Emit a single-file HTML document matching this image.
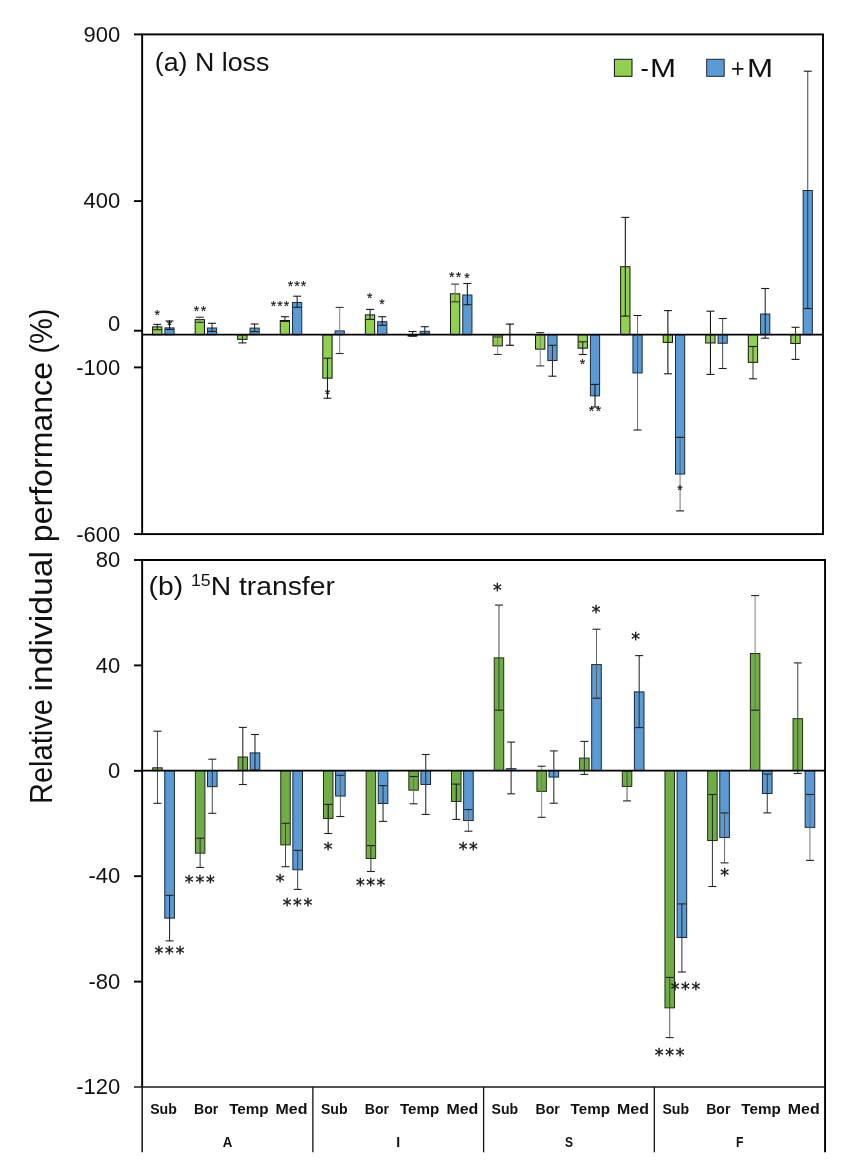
<!DOCTYPE html>
<html lang="en"><head><meta charset="utf-8"><title>Relative individual performance</title>
<style>html,body{margin:0;padding:0;background:#fff}body{width:850px;height:1168px;overflow:hidden}svg{display:block;font-family:"Liberation Sans", sans-serif;will-change:transform}</style></head><body>
<svg width="850" height="1168" viewBox="0 0 850 1168">
<rect width="850" height="1168" fill="#fff"/>
<rect x="152.60" y="326.90" width="9.30" height="7.80" fill="#92d050" stroke="#111" stroke-width="1.0"/>
<rect x="164.90" y="327.90" width="9.20" height="6.80" fill="#5b9bd5" stroke="#1c2b3a" stroke-width="1.0"/>
<rect x="195.15" y="319.60" width="9.30" height="15.10" fill="#92d050" stroke="#111" stroke-width="1.0"/>
<rect x="207.45" y="328.00" width="9.20" height="6.70" fill="#5b9bd5" stroke="#1c2b3a" stroke-width="1.0"/>
<rect x="237.70" y="334.70" width="9.30" height="4.65" fill="#92d050" stroke="#111" stroke-width="1.0"/>
<rect x="250.00" y="328.10" width="9.20" height="6.60" fill="#5b9bd5" stroke="#1c2b3a" stroke-width="1.0"/>
<rect x="280.25" y="320.50" width="9.30" height="14.20" fill="#92d050" stroke="#111" stroke-width="1.0"/>
<rect x="292.55" y="302.50" width="9.20" height="32.20" fill="#5b9bd5" stroke="#1c2b3a" stroke-width="1.0"/>
<rect x="322.80" y="334.70" width="9.30" height="43.45" fill="#92d050" stroke="#111" stroke-width="1.0"/>
<rect x="335.10" y="330.90" width="9.20" height="3.80" fill="#5b9bd5" stroke="#1c2b3a" stroke-width="1.0"/>
<rect x="365.35" y="314.90" width="9.30" height="19.80" fill="#92d050" stroke="#111" stroke-width="1.0"/>
<rect x="377.65" y="321.70" width="9.20" height="13.00" fill="#5b9bd5" stroke="#1c2b3a" stroke-width="1.0"/>
<rect x="407.90" y="334.70" width="9.30" height="1.15" fill="#92d050" stroke="#111" stroke-width="1.0"/>
<rect x="420.20" y="331.30" width="9.20" height="3.40" fill="#5b9bd5" stroke="#1c2b3a" stroke-width="1.0"/>
<rect x="450.45" y="293.80" width="9.30" height="40.90" fill="#92d050" stroke="#111" stroke-width="1.0"/>
<rect x="462.75" y="295.00" width="9.20" height="39.70" fill="#5b9bd5" stroke="#1c2b3a" stroke-width="1.0"/>
<rect x="493.00" y="334.70" width="9.30" height="11.15" fill="#92d050" stroke="#111" stroke-width="1.0"/>
<rect x="535.55" y="334.70" width="9.30" height="14.45" fill="#92d050" stroke="#111" stroke-width="1.0"/>
<rect x="547.85" y="334.70" width="9.20" height="25.85" fill="#5b9bd5" stroke="#1c2b3a" stroke-width="1.0"/>
<rect x="578.10" y="334.70" width="9.30" height="13.45" fill="#92d050" stroke="#111" stroke-width="1.0"/>
<rect x="590.40" y="334.70" width="9.20" height="61.15" fill="#5b9bd5" stroke="#1c2b3a" stroke-width="1.0"/>
<rect x="620.65" y="266.70" width="9.30" height="68.00" fill="#92d050" stroke="#111" stroke-width="1.0"/>
<rect x="632.95" y="334.70" width="9.20" height="38.25" fill="#5b9bd5" stroke="#1c2b3a" stroke-width="1.0"/>
<rect x="663.20" y="334.70" width="9.30" height="7.65" fill="#92d050" stroke="#111" stroke-width="1.0"/>
<rect x="675.50" y="334.70" width="9.20" height="139.35" fill="#5b9bd5" stroke="#1c2b3a" stroke-width="1.0"/>
<rect x="705.75" y="334.70" width="9.30" height="8.25" fill="#92d050" stroke="#111" stroke-width="1.0"/>
<rect x="718.05" y="334.70" width="9.20" height="8.55" fill="#5b9bd5" stroke="#1c2b3a" stroke-width="1.0"/>
<rect x="748.30" y="334.70" width="9.30" height="27.65" fill="#92d050" stroke="#111" stroke-width="1.0"/>
<rect x="760.60" y="314.00" width="9.20" height="20.70" fill="#5b9bd5" stroke="#1c2b3a" stroke-width="1.0"/>
<rect x="790.85" y="334.70" width="9.30" height="8.75" fill="#92d050" stroke="#111" stroke-width="1.0"/>
<rect x="803.15" y="190.50" width="9.20" height="144.20" fill="#5b9bd5" stroke="#1c2b3a" stroke-width="1.0"/>
<line x1="157.30" y1="324.40" x2="157.30" y2="329.70" stroke="#1a1a1a" stroke-width="1.0" />
<line x1="153.30" y1="324.40" x2="161.30" y2="324.40" stroke="#1a1a1a" stroke-width="1.1" />
<line x1="153.30" y1="329.70" x2="161.30" y2="329.70" stroke="#1a1a1a" stroke-width="1.1" />
<line x1="169.50" y1="321.00" x2="169.50" y2="329.50" stroke="#1a1a1a" stroke-width="1.0" />
<line x1="165.50" y1="321.00" x2="173.50" y2="321.00" stroke="#1a1a1a" stroke-width="1.1" />
<line x1="165.50" y1="329.50" x2="173.50" y2="329.50" stroke="#1a1a1a" stroke-width="1.1" />
<line x1="199.85" y1="317.20" x2="199.85" y2="322.40" stroke="#777" stroke-width="0.9" />
<line x1="195.85" y1="317.20" x2="203.85" y2="317.20" stroke="#333" stroke-width="1.1" />
<line x1="195.85" y1="322.40" x2="203.85" y2="322.40" stroke="#333" stroke-width="1.1" />
<line x1="212.05" y1="323.30" x2="212.05" y2="331.40" stroke="#1a1a1a" stroke-width="1.0" />
<line x1="208.05" y1="323.30" x2="216.05" y2="323.30" stroke="#1a1a1a" stroke-width="1.1" />
<line x1="208.05" y1="331.40" x2="216.05" y2="331.40" stroke="#1a1a1a" stroke-width="1.1" />
<line x1="242.40" y1="334.70" x2="242.40" y2="342.90" stroke="#1a1a1a" stroke-width="1.0" />
<line x1="238.40" y1="334.70" x2="246.40" y2="334.70" stroke="#1a1a1a" stroke-width="1.1" />
<line x1="238.40" y1="342.90" x2="246.40" y2="342.90" stroke="#1a1a1a" stroke-width="1.1" />
<line x1="254.60" y1="324.00" x2="254.60" y2="331.60" stroke="#1a1a1a" stroke-width="1.0" />
<line x1="250.60" y1="324.00" x2="258.60" y2="324.00" stroke="#1a1a1a" stroke-width="1.1" />
<line x1="250.60" y1="331.60" x2="258.60" y2="331.60" stroke="#1a1a1a" stroke-width="1.1" />
<line x1="284.95" y1="316.70" x2="284.95" y2="321.40" stroke="#1a1a1a" stroke-width="1.0" />
<line x1="280.95" y1="316.70" x2="288.95" y2="316.70" stroke="#1a1a1a" stroke-width="1.1" />
<line x1="280.95" y1="321.40" x2="288.95" y2="321.40" stroke="#1a1a1a" stroke-width="1.1" />
<line x1="297.15" y1="296.20" x2="297.15" y2="307.30" stroke="#1a1a1a" stroke-width="1.0" />
<line x1="293.15" y1="296.20" x2="301.15" y2="296.20" stroke="#1a1a1a" stroke-width="1.1" />
<line x1="293.15" y1="307.30" x2="301.15" y2="307.30" stroke="#1a1a1a" stroke-width="1.1" />
<line x1="327.50" y1="358.20" x2="327.50" y2="398.20" stroke="#1a1a1a" stroke-width="1.1" />
<line x1="323.50" y1="358.20" x2="331.50" y2="358.20" stroke="#1a1a1a" stroke-width="1.1" />
<line x1="323.50" y1="398.20" x2="331.50" y2="398.20" stroke="#1a1a1a" stroke-width="1.1" />
<line x1="339.70" y1="307.40" x2="339.70" y2="353.50" stroke="#777" stroke-width="0.9" />
<line x1="335.70" y1="307.40" x2="343.70" y2="307.40" stroke="#333" stroke-width="1.1" />
<line x1="335.70" y1="353.50" x2="343.70" y2="353.50" stroke="#333" stroke-width="1.1" />
<line x1="370.05" y1="309.40" x2="370.05" y2="319.40" stroke="#1a1a1a" stroke-width="1.1" />
<line x1="366.05" y1="309.40" x2="374.05" y2="309.40" stroke="#1a1a1a" stroke-width="1.1" />
<line x1="366.05" y1="319.40" x2="374.05" y2="319.40" stroke="#1a1a1a" stroke-width="1.1" />
<line x1="382.25" y1="316.70" x2="382.25" y2="325.30" stroke="#1a1a1a" stroke-width="1.0" />
<line x1="378.25" y1="316.70" x2="386.25" y2="316.70" stroke="#1a1a1a" stroke-width="1.1" />
<line x1="378.25" y1="325.30" x2="386.25" y2="325.30" stroke="#1a1a1a" stroke-width="1.1" />
<line x1="412.60" y1="331.50" x2="412.60" y2="336.20" stroke="#1a1a1a" stroke-width="1.0" />
<line x1="408.60" y1="331.50" x2="416.60" y2="331.50" stroke="#1a1a1a" stroke-width="1.1" />
<line x1="408.60" y1="336.20" x2="416.60" y2="336.20" stroke="#1a1a1a" stroke-width="1.1" />
<line x1="424.80" y1="326.70" x2="424.80" y2="334.00" stroke="#1a1a1a" stroke-width="1.0" />
<line x1="420.80" y1="326.70" x2="428.80" y2="326.70" stroke="#1a1a1a" stroke-width="1.1" />
<line x1="420.80" y1="334.00" x2="428.80" y2="334.00" stroke="#1a1a1a" stroke-width="1.1" />
<line x1="455.15" y1="284.10" x2="455.15" y2="301.80" stroke="#777" stroke-width="1.0" />
<line x1="451.15" y1="284.10" x2="459.15" y2="284.10" stroke="#333" stroke-width="1.1" />
<line x1="451.15" y1="301.80" x2="459.15" y2="301.80" stroke="#333" stroke-width="1.1" />
<line x1="467.35" y1="283.50" x2="467.35" y2="304.70" stroke="#1a1a1a" stroke-width="1.1" />
<line x1="463.35" y1="283.50" x2="471.35" y2="283.50" stroke="#1a1a1a" stroke-width="1.1" />
<line x1="463.35" y1="304.70" x2="471.35" y2="304.70" stroke="#1a1a1a" stroke-width="1.1" />
<line x1="497.70" y1="337.00" x2="497.70" y2="354.50" stroke="#777" stroke-width="0.9" />
<line x1="493.70" y1="337.00" x2="501.70" y2="337.00" stroke="#333" stroke-width="1.1" />
<line x1="493.70" y1="354.50" x2="501.70" y2="354.50" stroke="#333" stroke-width="1.1" />
<line x1="509.90" y1="324.10" x2="509.90" y2="345.30" stroke="#1a1a1a" stroke-width="1.2" />
<line x1="505.90" y1="324.10" x2="513.90" y2="324.10" stroke="#1a1a1a" stroke-width="1.2" />
<line x1="505.90" y1="345.30" x2="513.90" y2="345.30" stroke="#1a1a1a" stroke-width="1.2" />
<line x1="540.25" y1="332.60" x2="540.25" y2="365.90" stroke="#777" stroke-width="0.9" />
<line x1="536.25" y1="332.60" x2="544.25" y2="332.60" stroke="#333" stroke-width="1.1" />
<line x1="536.25" y1="365.90" x2="544.25" y2="365.90" stroke="#333" stroke-width="1.1" />
<line x1="552.45" y1="345.30" x2="552.45" y2="376.20" stroke="#333" stroke-width="1.1" />
<line x1="548.45" y1="345.30" x2="556.45" y2="345.30" stroke="#1a1a1a" stroke-width="1.1" />
<line x1="548.45" y1="376.20" x2="556.45" y2="376.20" stroke="#1a1a1a" stroke-width="1.1" />
<line x1="582.80" y1="341.80" x2="582.80" y2="354.50" stroke="#1a1a1a" stroke-width="1.0" />
<line x1="578.80" y1="341.80" x2="586.80" y2="341.80" stroke="#1a1a1a" stroke-width="1.1" />
<line x1="578.80" y1="354.50" x2="586.80" y2="354.50" stroke="#1a1a1a" stroke-width="1.1" />
<line x1="595.00" y1="384.40" x2="595.00" y2="407.00" stroke="#1a1a1a" stroke-width="1.1" />
<line x1="591.00" y1="384.40" x2="599.00" y2="384.40" stroke="#1a1a1a" stroke-width="1.1" />
<line x1="591.00" y1="407.00" x2="599.00" y2="407.00" stroke="#1a1a1a" stroke-width="1.1" />
<line x1="625.35" y1="217.40" x2="625.35" y2="316.10" stroke="#1a1a1a" stroke-width="1.1" />
<line x1="621.35" y1="217.40" x2="629.35" y2="217.40" stroke="#1a1a1a" stroke-width="1.1" />
<line x1="621.35" y1="316.10" x2="629.35" y2="316.10" stroke="#1a1a1a" stroke-width="1.1" />
<line x1="637.55" y1="315.50" x2="637.55" y2="430.00" stroke="#444" stroke-width="0.8" />
<line x1="633.55" y1="315.50" x2="641.55" y2="315.50" stroke="#1a1a1a" stroke-width="1.1" />
<line x1="633.55" y1="430.00" x2="641.55" y2="430.00" stroke="#1a1a1a" stroke-width="1.1" />
<line x1="667.90" y1="310.60" x2="667.90" y2="373.80" stroke="#1a1a1a" stroke-width="1.1" />
<line x1="663.90" y1="310.60" x2="671.90" y2="310.60" stroke="#1a1a1a" stroke-width="1.1" />
<line x1="663.90" y1="373.80" x2="671.90" y2="373.80" stroke="#1a1a1a" stroke-width="1.1" />
<line x1="680.10" y1="437.30" x2="680.10" y2="510.90" stroke="#555" stroke-width="0.8" />
<line x1="676.10" y1="437.30" x2="684.10" y2="437.30" stroke="#1a1a1a" stroke-width="1.1" />
<line x1="676.10" y1="510.90" x2="684.10" y2="510.90" stroke="#1a1a1a" stroke-width="1.1" />
<line x1="710.45" y1="311.20" x2="710.45" y2="374.40" stroke="#1a1a1a" stroke-width="1.1" />
<line x1="706.45" y1="311.20" x2="714.45" y2="311.20" stroke="#1a1a1a" stroke-width="1.1" />
<line x1="706.45" y1="374.40" x2="714.45" y2="374.40" stroke="#1a1a1a" stroke-width="1.1" />
<line x1="722.65" y1="318.50" x2="722.65" y2="368.50" stroke="#1a1a1a" stroke-width="0.8" />
<line x1="718.65" y1="318.50" x2="726.65" y2="318.50" stroke="#1a1a1a" stroke-width="1.1" />
<line x1="718.65" y1="368.50" x2="726.65" y2="368.50" stroke="#1a1a1a" stroke-width="1.1" />
<line x1="753.00" y1="346.50" x2="753.00" y2="378.80" stroke="#333" stroke-width="1.0" />
<line x1="749.00" y1="346.50" x2="757.00" y2="346.50" stroke="#1a1a1a" stroke-width="1.1" />
<line x1="749.00" y1="378.80" x2="757.00" y2="378.80" stroke="#1a1a1a" stroke-width="1.1" />
<line x1="765.20" y1="288.50" x2="765.20" y2="338.20" stroke="#1a1a1a" stroke-width="1.0" />
<line x1="761.20" y1="288.50" x2="769.20" y2="288.50" stroke="#1a1a1a" stroke-width="1.1" />
<line x1="761.20" y1="338.20" x2="769.20" y2="338.20" stroke="#1a1a1a" stroke-width="1.1" />
<line x1="795.55" y1="327.30" x2="795.55" y2="359.40" stroke="#1a1a1a" stroke-width="0.9" />
<line x1="791.55" y1="327.30" x2="799.55" y2="327.30" stroke="#1a1a1a" stroke-width="1.1" />
<line x1="791.55" y1="359.40" x2="799.55" y2="359.40" stroke="#1a1a1a" stroke-width="1.1" />
<line x1="807.75" y1="71.20" x2="807.75" y2="308.50" stroke="#1a1a1a" stroke-width="0.8" />
<line x1="803.75" y1="71.20" x2="811.75" y2="71.20" stroke="#1a1a1a" stroke-width="1.1" />
<line x1="803.75" y1="308.50" x2="811.75" y2="308.50" stroke="#1a1a1a" stroke-width="1.1" />
<line x1="142.15" y1="334.70" x2="823.00" y2="334.70" stroke="#000" stroke-width="1.7" />
<rect x="142.15" y="34.4" width="680.85" height="499.70" fill="none" stroke="#000" stroke-width="1.9"/>
<line x1="134.00" y1="34.40" x2="142.15" y2="34.40" stroke="#000" stroke-width="1.9" />
<line x1="134.00" y1="201.10" x2="142.15" y2="201.10" stroke="#000" stroke-width="1.9" />
<line x1="134.00" y1="330.70" x2="142.15" y2="330.70" stroke="#000" stroke-width="1.9" />
<line x1="134.00" y1="367.40" x2="142.15" y2="367.40" stroke="#000" stroke-width="1.9" />
<line x1="134.00" y1="534.10" x2="142.15" y2="534.10" stroke="#000" stroke-width="1.9" />
<text x="157.3" y="320.3" font-size="14" text-anchor="middle" fill="#111" stroke="#111" stroke-width="0.15">*</text>
<text x="169.4" y="329.6" font-size="14" text-anchor="middle" fill="#111" stroke="#111" stroke-width="0.15">*</text>
<text x="196.5 203.5" y="315.6" font-size="14" text-anchor="middle" fill="#111" stroke="#111" stroke-width="0.15">**</text>
<text x="273.5 280.0 286.5" y="311.1" font-size="14" text-anchor="middle" fill="#111" stroke="#111" stroke-width="0.15">***</text>
<text x="290.5 297.0 303.5" y="290.5" font-size="14" text-anchor="middle" fill="#111" stroke="#111" stroke-width="0.15">***</text>
<text x="327.4" y="398.5" font-size="14" text-anchor="middle" fill="#111" stroke="#111" stroke-width="0.15">*</text>
<text x="369.8" y="303.1" font-size="14" text-anchor="middle" fill="#111" stroke="#111" stroke-width="0.15">*</text>
<text x="382.0" y="309.4" font-size="14" text-anchor="middle" fill="#111" stroke="#111" stroke-width="0.15">*</text>
<text x="451.7 458.5" y="281.7" font-size="14" text-anchor="middle" fill="#111" stroke="#111" stroke-width="0.15">**</text>
<text x="467.0" y="282.9" font-size="14" text-anchor="middle" fill="#111" stroke="#111" stroke-width="0.15">*</text>
<text x="582.6" y="368.8" font-size="14" text-anchor="middle" fill="#111" stroke="#111" stroke-width="0.15">*</text>
<text x="591.5 598.5" y="416.0" font-size="14" text-anchor="middle" fill="#111" stroke="#111" stroke-width="0.15">**</text>
<text x="680.0" y="494.9" font-size="14" text-anchor="middle" fill="#111" stroke="#111" stroke-width="0.15">*</text>
<rect x="152.70" y="767.80" width="9.50" height="2.80" fill="#70ad47" stroke="#1e2e12" stroke-width="1.0"/>
<rect x="164.80" y="770.60" width="9.60" height="147.55" fill="#5b9bd5" stroke="#182838" stroke-width="1.0"/>
<rect x="195.39" y="770.60" width="9.50" height="82.55" fill="#70ad47" stroke="#1e2e12" stroke-width="1.0"/>
<rect x="207.49" y="770.60" width="9.60" height="16.05" fill="#5b9bd5" stroke="#182838" stroke-width="1.0"/>
<rect x="238.08" y="757.00" width="9.50" height="13.60" fill="#70ad47" stroke="#1e2e12" stroke-width="1.0"/>
<rect x="250.18" y="752.90" width="9.60" height="17.70" fill="#5b9bd5" stroke="#182838" stroke-width="1.0"/>
<rect x="280.77" y="770.60" width="9.50" height="74.25" fill="#70ad47" stroke="#1e2e12" stroke-width="1.0"/>
<rect x="292.87" y="770.60" width="9.60" height="99.15" fill="#5b9bd5" stroke="#182838" stroke-width="1.0"/>
<rect x="323.46" y="770.60" width="9.50" height="47.85" fill="#70ad47" stroke="#1e2e12" stroke-width="1.0"/>
<rect x="335.56" y="770.60" width="9.60" height="25.45" fill="#5b9bd5" stroke="#182838" stroke-width="1.0"/>
<rect x="366.15" y="770.60" width="9.50" height="87.85" fill="#70ad47" stroke="#1e2e12" stroke-width="1.0"/>
<rect x="378.25" y="770.60" width="9.60" height="32.85" fill="#5b9bd5" stroke="#182838" stroke-width="1.0"/>
<rect x="408.84" y="770.60" width="9.50" height="19.55" fill="#70ad47" stroke="#1e2e12" stroke-width="1.0"/>
<rect x="420.94" y="770.60" width="9.60" height="13.85" fill="#5b9bd5" stroke="#182838" stroke-width="1.0"/>
<rect x="451.53" y="770.60" width="9.50" height="30.85" fill="#70ad47" stroke="#1e2e12" stroke-width="1.0"/>
<rect x="463.63" y="770.60" width="9.60" height="49.95" fill="#5b9bd5" stroke="#182838" stroke-width="1.0"/>
<rect x="494.22" y="657.90" width="9.50" height="112.70" fill="#70ad47" stroke="#1e2e12" stroke-width="1.0"/>
<rect x="506.32" y="768.70" width="9.60" height="1.90" fill="#5b9bd5" stroke="#182838" stroke-width="1.0"/>
<rect x="536.91" y="770.60" width="9.50" height="20.75" fill="#70ad47" stroke="#1e2e12" stroke-width="1.0"/>
<rect x="549.01" y="770.60" width="9.60" height="6.45" fill="#5b9bd5" stroke="#182838" stroke-width="1.0"/>
<rect x="579.60" y="758.10" width="9.50" height="12.50" fill="#70ad47" stroke="#1e2e12" stroke-width="1.0"/>
<rect x="591.70" y="664.60" width="9.60" height="106.00" fill="#5b9bd5" stroke="#182838" stroke-width="1.0"/>
<rect x="622.29" y="770.60" width="9.50" height="15.85" fill="#70ad47" stroke="#1e2e12" stroke-width="1.0"/>
<rect x="634.39" y="691.90" width="9.60" height="78.70" fill="#5b9bd5" stroke="#182838" stroke-width="1.0"/>
<rect x="664.98" y="770.60" width="9.50" height="237.25" fill="#70ad47" stroke="#1e2e12" stroke-width="1.0"/>
<rect x="677.08" y="770.60" width="9.60" height="166.85" fill="#5b9bd5" stroke="#182838" stroke-width="1.0"/>
<rect x="707.67" y="770.60" width="9.50" height="69.95" fill="#70ad47" stroke="#1e2e12" stroke-width="1.0"/>
<rect x="719.77" y="770.60" width="9.60" height="66.95" fill="#5b9bd5" stroke="#182838" stroke-width="1.0"/>
<rect x="750.36" y="653.50" width="9.50" height="117.10" fill="#70ad47" stroke="#1e2e12" stroke-width="1.0"/>
<rect x="762.46" y="770.60" width="9.60" height="22.85" fill="#5b9bd5" stroke="#182838" stroke-width="1.0"/>
<rect x="793.05" y="718.70" width="9.50" height="51.90" fill="#70ad47" stroke="#1e2e12" stroke-width="1.0"/>
<rect x="805.15" y="770.60" width="9.60" height="56.75" fill="#5b9bd5" stroke="#182838" stroke-width="1.0"/>
<line x1="157.45" y1="731.20" x2="157.45" y2="803.30" stroke="#1a1a1a" stroke-width="0.8" />
<line x1="153.45" y1="731.20" x2="161.45" y2="731.20" stroke="#222" stroke-width="1.1" />
<line x1="153.45" y1="803.30" x2="161.45" y2="803.30" stroke="#222" stroke-width="1.1" />
<line x1="169.60" y1="895.30" x2="169.60" y2="940.90" stroke="#1a1a1a" stroke-width="1.0" />
<line x1="165.60" y1="895.30" x2="173.60" y2="895.30" stroke="#222" stroke-width="1.1" />
<line x1="165.60" y1="940.90" x2="173.60" y2="940.90" stroke="#222" stroke-width="1.1" />
<line x1="200.14" y1="838.20" x2="200.14" y2="867.40" stroke="#333" stroke-width="1.0" />
<line x1="196.14" y1="838.20" x2="204.14" y2="838.20" stroke="#222" stroke-width="1.1" />
<line x1="196.14" y1="867.40" x2="204.14" y2="867.40" stroke="#222" stroke-width="1.1" />
<line x1="212.29" y1="759.20" x2="212.29" y2="813.30" stroke="#1a1a1a" stroke-width="0.8" />
<line x1="208.29" y1="759.20" x2="216.29" y2="759.20" stroke="#222" stroke-width="1.1" />
<line x1="208.29" y1="813.30" x2="216.29" y2="813.30" stroke="#222" stroke-width="1.1" />
<line x1="242.83" y1="727.40" x2="242.83" y2="784.50" stroke="#1a1a1a" stroke-width="1.0" />
<line x1="238.83" y1="727.40" x2="246.83" y2="727.40" stroke="#222" stroke-width="1.1" />
<line x1="238.83" y1="784.50" x2="246.83" y2="784.50" stroke="#222" stroke-width="1.1" />
<line x1="254.98" y1="734.50" x2="254.98" y2="770.00" stroke="#1a1a1a" stroke-width="1.0" />
<line x1="250.98" y1="734.50" x2="258.98" y2="734.50" stroke="#222" stroke-width="1.1" />
<line x1="250.98" y1="770.00" x2="258.98" y2="770.00" stroke="#222" stroke-width="1.1" />
<line x1="285.52" y1="823.30" x2="285.52" y2="866.70" stroke="#444" stroke-width="1.0" />
<line x1="281.52" y1="823.30" x2="289.52" y2="823.30" stroke="#222" stroke-width="1.1" />
<line x1="281.52" y1="866.70" x2="289.52" y2="866.70" stroke="#222" stroke-width="1.1" />
<line x1="297.67" y1="850.40" x2="297.67" y2="889.40" stroke="#444" stroke-width="1.0" />
<line x1="293.67" y1="850.40" x2="301.67" y2="850.40" stroke="#222" stroke-width="1.1" />
<line x1="293.67" y1="889.40" x2="301.67" y2="889.40" stroke="#222" stroke-width="1.1" />
<line x1="328.21" y1="804.40" x2="328.21" y2="833.50" stroke="#1a1a1a" stroke-width="1.1" />
<line x1="324.21" y1="804.40" x2="332.21" y2="804.40" stroke="#222" stroke-width="1.1" />
<line x1="324.21" y1="833.50" x2="332.21" y2="833.50" stroke="#222" stroke-width="1.1" />
<line x1="340.36" y1="775.30" x2="340.36" y2="816.50" stroke="#555" stroke-width="0.9" />
<line x1="336.36" y1="775.30" x2="344.36" y2="775.30" stroke="#222" stroke-width="1.1" />
<line x1="336.36" y1="816.50" x2="344.36" y2="816.50" stroke="#222" stroke-width="1.1" />
<line x1="370.90" y1="845.60" x2="370.90" y2="871.50" stroke="#333" stroke-width="1.0" />
<line x1="366.90" y1="845.60" x2="374.90" y2="845.60" stroke="#222" stroke-width="1.1" />
<line x1="366.90" y1="871.50" x2="374.90" y2="871.50" stroke="#222" stroke-width="1.1" />
<line x1="383.05" y1="785.60" x2="383.05" y2="821.40" stroke="#333" stroke-width="1.1" />
<line x1="379.05" y1="785.60" x2="387.05" y2="785.60" stroke="#222" stroke-width="1.1" />
<line x1="379.05" y1="821.40" x2="387.05" y2="821.40" stroke="#222" stroke-width="1.1" />
<line x1="413.59" y1="776.50" x2="413.59" y2="803.80" stroke="#666" stroke-width="0.9" />
<line x1="409.59" y1="776.50" x2="417.59" y2="776.50" stroke="#222" stroke-width="1.1" />
<line x1="409.59" y1="803.80" x2="417.59" y2="803.80" stroke="#222" stroke-width="1.1" />
<line x1="425.74" y1="754.50" x2="425.74" y2="814.40" stroke="#333" stroke-width="1.1" />
<line x1="421.74" y1="754.50" x2="429.74" y2="754.50" stroke="#222" stroke-width="1.1" />
<line x1="421.74" y1="814.40" x2="429.74" y2="814.40" stroke="#222" stroke-width="1.1" />
<line x1="456.28" y1="784.10" x2="456.28" y2="819.40" stroke="#1a1a1a" stroke-width="1.1" />
<line x1="452.28" y1="784.10" x2="460.28" y2="784.10" stroke="#222" stroke-width="1.1" />
<line x1="452.28" y1="819.40" x2="460.28" y2="819.40" stroke="#222" stroke-width="1.1" />
<line x1="468.43" y1="809.60" x2="468.43" y2="831.20" stroke="#666" stroke-width="0.9" />
<line x1="464.43" y1="809.60" x2="472.43" y2="809.60" stroke="#222" stroke-width="1.1" />
<line x1="464.43" y1="831.20" x2="472.43" y2="831.20" stroke="#222" stroke-width="1.1" />
<line x1="498.97" y1="605.10" x2="498.97" y2="710.20" stroke="#333" stroke-width="0.9" />
<line x1="494.97" y1="605.10" x2="502.97" y2="605.10" stroke="#222" stroke-width="1.1" />
<line x1="494.97" y1="710.20" x2="502.97" y2="710.20" stroke="#222" stroke-width="1.1" />
<line x1="511.12" y1="742.10" x2="511.12" y2="793.80" stroke="#333" stroke-width="1.1" />
<line x1="507.12" y1="742.10" x2="515.12" y2="742.10" stroke="#222" stroke-width="1.1" />
<line x1="507.12" y1="793.80" x2="515.12" y2="793.80" stroke="#222" stroke-width="1.1" />
<line x1="541.66" y1="766.20" x2="541.66" y2="817.30" stroke="#777" stroke-width="0.9" />
<line x1="537.66" y1="766.20" x2="545.66" y2="766.20" stroke="#222" stroke-width="1.1" />
<line x1="537.66" y1="817.30" x2="545.66" y2="817.30" stroke="#222" stroke-width="1.1" />
<line x1="553.81" y1="750.90" x2="553.81" y2="803.20" stroke="#333" stroke-width="1.1" />
<line x1="549.81" y1="750.90" x2="557.81" y2="750.90" stroke="#222" stroke-width="1.1" />
<line x1="549.81" y1="803.20" x2="557.81" y2="803.20" stroke="#222" stroke-width="1.1" />
<line x1="584.35" y1="741.40" x2="584.35" y2="774.40" stroke="#333" stroke-width="1.0" />
<line x1="580.35" y1="741.40" x2="588.35" y2="741.40" stroke="#222" stroke-width="1.1" />
<line x1="580.35" y1="774.40" x2="588.35" y2="774.40" stroke="#222" stroke-width="1.1" />
<line x1="596.50" y1="629.20" x2="596.50" y2="698.20" stroke="#555" stroke-width="0.9" />
<line x1="592.50" y1="629.20" x2="600.50" y2="629.20" stroke="#222" stroke-width="1.1" />
<line x1="592.50" y1="698.20" x2="600.50" y2="698.20" stroke="#222" stroke-width="1.1" />
<line x1="627.04" y1="771.00" x2="627.04" y2="800.90" stroke="#444" stroke-width="0.9" />
<line x1="623.04" y1="771.00" x2="631.04" y2="771.00" stroke="#222" stroke-width="1.1" />
<line x1="623.04" y1="800.90" x2="631.04" y2="800.90" stroke="#222" stroke-width="1.1" />
<line x1="639.19" y1="655.60" x2="639.19" y2="727.60" stroke="#333" stroke-width="1.1" />
<line x1="635.19" y1="655.60" x2="643.19" y2="655.60" stroke="#222" stroke-width="1.1" />
<line x1="635.19" y1="727.60" x2="643.19" y2="727.60" stroke="#222" stroke-width="1.1" />
<line x1="669.73" y1="977.40" x2="669.73" y2="1037.60" stroke="#333" stroke-width="0.8" />
<line x1="665.73" y1="977.40" x2="673.73" y2="977.40" stroke="#222" stroke-width="1.1" />
<line x1="665.73" y1="1037.60" x2="673.73" y2="1037.60" stroke="#222" stroke-width="1.1" />
<line x1="681.88" y1="903.90" x2="681.88" y2="972.00" stroke="#1a1a1a" stroke-width="0.9" />
<line x1="677.88" y1="903.90" x2="685.88" y2="903.90" stroke="#222" stroke-width="1.1" />
<line x1="677.88" y1="972.00" x2="685.88" y2="972.00" stroke="#222" stroke-width="1.1" />
<line x1="712.42" y1="794.50" x2="712.42" y2="886.50" stroke="#1a1a1a" stroke-width="0.9" />
<line x1="708.42" y1="794.50" x2="716.42" y2="794.50" stroke="#222" stroke-width="1.1" />
<line x1="708.42" y1="886.50" x2="716.42" y2="886.50" stroke="#222" stroke-width="1.1" />
<line x1="724.57" y1="812.90" x2="724.57" y2="862.90" stroke="#444" stroke-width="0.8" />
<line x1="720.57" y1="812.90" x2="728.57" y2="812.90" stroke="#222" stroke-width="1.1" />
<line x1="720.57" y1="862.90" x2="728.57" y2="862.90" stroke="#222" stroke-width="1.1" />
<line x1="755.11" y1="595.60" x2="755.11" y2="710.20" stroke="#666" stroke-width="0.8" />
<line x1="751.11" y1="595.60" x2="759.11" y2="595.60" stroke="#222" stroke-width="1.1" />
<line x1="751.11" y1="710.20" x2="759.11" y2="710.20" stroke="#222" stroke-width="1.1" />
<line x1="767.26" y1="774.10" x2="767.26" y2="812.90" stroke="#333" stroke-width="1.0" />
<line x1="763.26" y1="774.10" x2="771.26" y2="774.10" stroke="#222" stroke-width="1.1" />
<line x1="763.26" y1="812.90" x2="771.26" y2="812.90" stroke="#222" stroke-width="1.1" />
<line x1="797.80" y1="662.90" x2="797.80" y2="773.50" stroke="#444" stroke-width="1.0" />
<line x1="793.80" y1="662.90" x2="801.80" y2="662.90" stroke="#222" stroke-width="1.1" />
<line x1="793.80" y1="773.50" x2="801.80" y2="773.50" stroke="#222" stroke-width="1.1" />
<line x1="809.95" y1="794.50" x2="809.95" y2="860.40" stroke="#666" stroke-width="0.9" />
<line x1="805.95" y1="794.50" x2="813.95" y2="794.50" stroke="#222" stroke-width="1.1" />
<line x1="805.95" y1="860.40" x2="813.95" y2="860.40" stroke="#222" stroke-width="1.1" />
<line x1="142.15" y1="770.60" x2="825.05" y2="770.60" stroke="#000" stroke-width="1.7" />
<path d="M142.15 1087.0 V560.0 H825.05 V1152.3" fill="none" stroke="#000" stroke-width="1.9" stroke-linejoin="miter"/>
<line x1="134.00" y1="1087.00" x2="825.05" y2="1087.00" stroke="#1a1a1a" stroke-width="1.4" />
<line x1="134.00" y1="560.00" x2="142.15" y2="560.00" stroke="#000" stroke-width="1.9" />
<line x1="134.00" y1="665.40" x2="142.15" y2="665.40" stroke="#000" stroke-width="1.9" />
<line x1="134.00" y1="770.80" x2="142.15" y2="770.80" stroke="#000" stroke-width="1.9" />
<line x1="134.00" y1="876.20" x2="142.15" y2="876.20" stroke="#000" stroke-width="1.9" />
<line x1="134.00" y1="981.60" x2="142.15" y2="981.60" stroke="#000" stroke-width="1.9" />
<text x="158.8 169.4 180.0" y="958.6" font-size="17.5" font-family="'DejaVu Sans', 'Liberation Sans', sans-serif" text-anchor="middle" fill="#111" stroke="#111" stroke-width="0.35">***</text>
<text x="189.2 199.8 210.4" y="887.8" font-size="17.5" font-family="'DejaVu Sans', 'Liberation Sans', sans-serif" text-anchor="middle" fill="#111" stroke="#111" stroke-width="0.35">***</text>
<text x="280.0" y="887.0" font-size="17.5" font-family="'DejaVu Sans', 'Liberation Sans', sans-serif" text-anchor="middle" fill="#111" stroke="#111" stroke-width="0.35">*</text>
<text x="287.1 297.4 307.9" y="911.1" font-size="17.5" font-family="'DejaVu Sans', 'Liberation Sans', sans-serif" text-anchor="middle" fill="#111" stroke="#111" stroke-width="0.35">***</text>
<text x="328.0" y="855.1" font-size="17.5" font-family="'DejaVu Sans', 'Liberation Sans', sans-serif" text-anchor="middle" fill="#111" stroke="#111" stroke-width="0.35">*</text>
<text x="360.4 370.6 380.9" y="891.1" font-size="17.5" font-family="'DejaVu Sans', 'Liberation Sans', sans-serif" text-anchor="middle" fill="#111" stroke="#111" stroke-width="0.35">***</text>
<text x="463.1 473.4" y="854.9" font-size="17.5" font-family="'DejaVu Sans', 'Liberation Sans', sans-serif" text-anchor="middle" fill="#111" stroke="#111" stroke-width="0.35">**</text>
<text x="497.3" y="596.0" font-size="17.5" font-family="'DejaVu Sans', 'Liberation Sans', sans-serif" text-anchor="middle" fill="#111" stroke="#111" stroke-width="0.35">*</text>
<text x="596.2" y="618.2" font-size="17.5" font-family="'DejaVu Sans', 'Liberation Sans', sans-serif" text-anchor="middle" fill="#111" stroke="#111" stroke-width="0.35">*</text>
<text x="635.6" y="644.5" font-size="17.5" font-family="'DejaVu Sans', 'Liberation Sans', sans-serif" text-anchor="middle" fill="#111" stroke="#111" stroke-width="0.35">*</text>
<text x="659.2 669.7 680.2" y="1060.7" font-size="17.5" font-family="'DejaVu Sans', 'Liberation Sans', sans-serif" text-anchor="middle" fill="#111" stroke="#111" stroke-width="0.35">***</text>
<text x="675.0 685.3 695.8" y="994.5" font-size="17.5" font-family="'DejaVu Sans', 'Liberation Sans', sans-serif" text-anchor="middle" fill="#111" stroke="#111" stroke-width="0.35">***</text>
<text x="724.5" y="881.3" font-size="17.5" font-family="'DejaVu Sans', 'Liberation Sans', sans-serif" text-anchor="middle" fill="#111" stroke="#111" stroke-width="0.35">*</text>
<line x1="142.15" y1="1087.00" x2="142.15" y2="1152.30" stroke="#111" stroke-width="1.5" />
<line x1="312.88" y1="1087.00" x2="312.88" y2="1152.30" stroke="#111" stroke-width="1.3" />
<line x1="483.60" y1="1087.00" x2="483.60" y2="1152.30" stroke="#111" stroke-width="1.3" />
<line x1="654.32" y1="1087.00" x2="654.32" y2="1152.30" stroke="#111" stroke-width="1.3" />
<text x="163.5" y="1114.2" font-size="14.7" font-weight="bold" text-anchor="middle" textLength="26.6" lengthAdjust="spacingAndGlyphs" fill="#111">Sub</text>
<text x="206.2" y="1114.2" font-size="14.7" font-weight="bold" text-anchor="middle" textLength="24.2" lengthAdjust="spacingAndGlyphs" fill="#111">Bor</text>
<text x="248.9" y="1114.2" font-size="14.7" font-weight="bold" text-anchor="middle" textLength="39.4" lengthAdjust="spacingAndGlyphs" fill="#111">Temp</text>
<text x="291.5" y="1114.2" font-size="14.7" font-weight="bold" text-anchor="middle" textLength="31.8" lengthAdjust="spacingAndGlyphs" fill="#111">Med</text>
<text x="334.2" y="1114.2" font-size="14.7" font-weight="bold" text-anchor="middle" textLength="26.6" lengthAdjust="spacingAndGlyphs" fill="#111">Sub</text>
<text x="376.9" y="1114.2" font-size="14.7" font-weight="bold" text-anchor="middle" textLength="24.2" lengthAdjust="spacingAndGlyphs" fill="#111">Bor</text>
<text x="419.6" y="1114.2" font-size="14.7" font-weight="bold" text-anchor="middle" textLength="39.4" lengthAdjust="spacingAndGlyphs" fill="#111">Temp</text>
<text x="462.3" y="1114.2" font-size="14.7" font-weight="bold" text-anchor="middle" textLength="31.8" lengthAdjust="spacingAndGlyphs" fill="#111">Med</text>
<text x="504.9" y="1114.2" font-size="14.7" font-weight="bold" text-anchor="middle" textLength="26.6" lengthAdjust="spacingAndGlyphs" fill="#111">Sub</text>
<text x="547.6" y="1114.2" font-size="14.7" font-weight="bold" text-anchor="middle" textLength="24.2" lengthAdjust="spacingAndGlyphs" fill="#111">Bor</text>
<text x="590.3" y="1114.2" font-size="14.7" font-weight="bold" text-anchor="middle" textLength="39.4" lengthAdjust="spacingAndGlyphs" fill="#111">Temp</text>
<text x="633.0" y="1114.2" font-size="14.7" font-weight="bold" text-anchor="middle" textLength="31.8" lengthAdjust="spacingAndGlyphs" fill="#111">Med</text>
<text x="675.7" y="1114.2" font-size="14.7" font-weight="bold" text-anchor="middle" textLength="26.6" lengthAdjust="spacingAndGlyphs" fill="#111">Sub</text>
<text x="718.3" y="1114.2" font-size="14.7" font-weight="bold" text-anchor="middle" textLength="24.2" lengthAdjust="spacingAndGlyphs" fill="#111">Bor</text>
<text x="761.0" y="1114.2" font-size="14.7" font-weight="bold" text-anchor="middle" textLength="39.4" lengthAdjust="spacingAndGlyphs" fill="#111">Temp</text>
<text x="803.7" y="1114.2" font-size="14.7" font-weight="bold" text-anchor="middle" textLength="31.8" lengthAdjust="spacingAndGlyphs" fill="#111">Med</text>
<text x="227.5" y="1147.2" font-size="14.7" font-weight="bold" text-anchor="middle" textLength="9.6" lengthAdjust="spacingAndGlyphs" fill="#111">A</text>
<text x="398.2" y="1147.2" font-size="14.7" font-weight="bold" text-anchor="middle" textLength="3.9" lengthAdjust="spacingAndGlyphs" fill="#111">I</text>
<text x="569.0" y="1147.2" font-size="14.7" font-weight="bold" text-anchor="middle" textLength="8.0" lengthAdjust="spacingAndGlyphs" fill="#111">S</text>
<text x="739.7" y="1147.2" font-size="14.7" font-weight="bold" text-anchor="middle" textLength="7.4" lengthAdjust="spacingAndGlyphs" fill="#111">F</text>
<text x="120.2" y="42.0" font-size="22" text-anchor="end" fill="#111">900</text>
<text x="120.2" y="208.2" font-size="22" text-anchor="end" fill="#111">400</text>
<text x="120.2" y="331.2" font-size="22" text-anchor="end" fill="#111">0</text>
<text x="120.2" y="374.7" font-size="22" text-anchor="end" fill="#111">-100</text>
<text x="120.2" y="541.9" font-size="22" text-anchor="end" fill="#111">-600</text>
<text x="120.2" y="567.0" font-size="22" text-anchor="end" fill="#111">80</text>
<text x="120.2" y="672.6" font-size="22" text-anchor="end" fill="#111">40</text>
<text x="120.2" y="778.0" font-size="22" text-anchor="end" fill="#111">0</text>
<text x="120.2" y="883.4" font-size="22" text-anchor="end" fill="#111">-40</text>
<text x="120.2" y="988.8" font-size="22" text-anchor="end" fill="#111">-80</text>
<text x="120.2" y="1094.3" font-size="22" text-anchor="end" fill="#111">-120</text>
<text transform="translate(51.6,804.0) rotate(-90)" font-size="31.5" textLength="104.9" lengthAdjust="spacingAndGlyphs" fill="#111">Relative</text>
<text transform="translate(51.6,691.5) rotate(-90)" font-size="31.5" textLength="140.5" lengthAdjust="spacingAndGlyphs" fill="#111">individual</text>
<text transform="translate(51.6,542.2) rotate(-90)" font-size="31.5" textLength="180.2" lengthAdjust="spacingAndGlyphs" fill="#111">performance</text>
<text transform="translate(51.6,353.6) rotate(-90)" font-size="31.5" textLength="45.1" lengthAdjust="spacingAndGlyphs" fill="#111">(%)</text>
<text transform="translate(154.8,70.5) scale(1.03,1)" font-size="26" fill="#111">(a) N loss</text>
<text transform="translate(148.6,595.1) scale(1.075,1)" font-size="26.3" fill="#111">(b) <tspan font-size="16.5" dy="-9.2">15</tspan><tspan dy="9.2">N transfer</tspan></text>
<rect x="614.40" y="59.30" width="17.60" height="17.00" fill="#92d050" stroke="#111" stroke-width="1.0"/>
<text x="640.4" y="76.6" font-size="25" fill="#111">-</text>
<text transform="translate(650.1,76.6) scale(1.25,1)" font-size="25" fill="#111">M</text>
<rect x="706.70" y="59.30" width="17.50" height="17.00" fill="#5b9bd5" stroke="#1c2b3a" stroke-width="1.0"/>
<text transform="translate(731.0,76.6) scale(0.93,1)" font-size="25" fill="#111">+</text>
<text transform="translate(747.0,76.6) scale(1.25,1)" font-size="25" fill="#111">M</text>
</svg></body></html>
